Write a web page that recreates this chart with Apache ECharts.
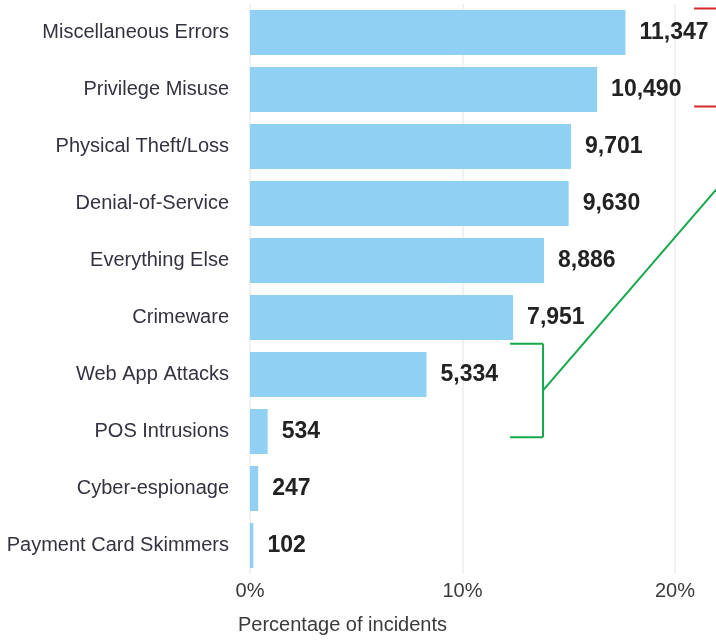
<!DOCTYPE html>
<html>
<head>
<meta charset="utf-8">
<script src="https://cdn.jsdelivr.net/npm/echarts@6/dist/echarts.min.js"></script>
<style>
  html, body { margin: 0; padding: 0; background: #ffffff; }
  #chart { width: 716px; height: 641px; }
</style>
</head>
<body>
<div id="chart"></div>
<script>
// Incident patterns and their incident counts
const categories = [
  'Miscellaneous Errors', 'Privilege Misuse', 'Physical Theft/Loss', 'Denial-of-Service',
  'Everything Else', 'Crimeware', 'Web App Attacks', 'POS Intrusions',
  'Cyber-espionage', 'Payment Card Skimmers'
];
const incidentCounts = [11347, 10490, 9701, 9630, 8886, 7951, 5334, 534, 247, 102];
const axisTicks = [0, 10, 20];

// Bar length = share of all incidents, in percent
const totalIncidents = incidentCounts.reduce((a, b) => a + b, 0);
const shares = incidentCounts.map(n => n / totalIncidents * 100);

const FONT = '"Liberation Sans", Arial, Helvetica, sans-serif';
const chart = echarts.init(document.getElementById('chart'), null, { renderer: 'canvas' });

chart.setOption({
  animation: false,
  backgroundColor: '#ffffff',
  grid: { left: 250, right: 41, top: 4, bottom: 67, containLabel: false },
  xAxis: {
    type: 'value',
    min: axisTicks[0],
    max: axisTicks[axisTicks.length - 1],
    interval: axisTicks[1] - axisTicks[0],
    axisLine: { show: false },
    axisTick: { show: false },
    splitLine: { show: true, lineStyle: { color: '#f1f1f3', width: 2 } },
    axisLabel: {
      formatter: '{value}%', fontFamily: FONT, fontSize: 20, color: '#3a3a3a', margin: 7
    },
    name: 'Percentage of incidents',
    nameLocation: 'start',
    nameGap: 12,
    nameTextStyle: {
      fontFamily: FONT, fontSize: 20, color: '#3a3a3a',
      align: 'left', verticalAlign: 'top', padding: [41, 0, 0, 0]
    }
  },
  yAxis: {
    type: 'category',
    inverse: true,
    data: categories,
    axisLine: { show: false },
    axisTick: { show: false },
    axisLabel: { fontFamily: FONT, fontSize: 20, color: '#333340', margin: 21 }
  },
  series: [{
    type: 'bar',
    data: shares,
    barCategoryGap: '21%',
    itemStyle: { color: '#8fd0f3' },
    label: {
      show: true,
      position: 'right',
      distance: 14,
      fontFamily: FONT,
      fontSize: 23,
      fontWeight: 'bold',
      color: '#222222',
      formatter: p => incidentCounts[p.dataIndex].toLocaleString('en-US')
    }
  }]
});

// Bracket annotations, placed in data units (percent, category position)
function pt(pct, catPos) {
  const c0 = chart.convertToPixel({ gridIndex: 0 }, [0, 0])[1];
  const c1 = chart.convertToPixel({ gridIndex: 0 }, [0, 1])[1];
  const x = chart.convertToPixel({ gridIndex: 0 }, [pct, 0])[0];
  return [x, c0 + catPos * (c1 - c0)];
}
const red = { stroke: '#d42a2a', lineWidth: 2 };
const green = { stroke: '#15a84a', lineWidth: 2 };
function seg(a, b, style) {
  return { type: 'line', shape: { x1: a[0], y1: a[1], x2: b[0], y2: b[1] }, style: style, silent: true, z: 100 };
}
chart.setOption({
  graphic: [
    seg(pt(20.9, -0.42), pt(22.6, -0.42), red),
    seg(pt(20.9, 1.30), pt(22.6, 1.30), red),
    seg(pt(12.24, 5.46), pt(13.79, 5.46), green),
    seg(pt(13.79, 5.46), pt(13.79, 7.10), green),
    seg(pt(12.24, 7.10), pt(13.79, 7.10), green),
    seg(pt(13.79, 6.28), pt(22.6, 2.47), green)
  ]
});
</script>
</body>
</html>
